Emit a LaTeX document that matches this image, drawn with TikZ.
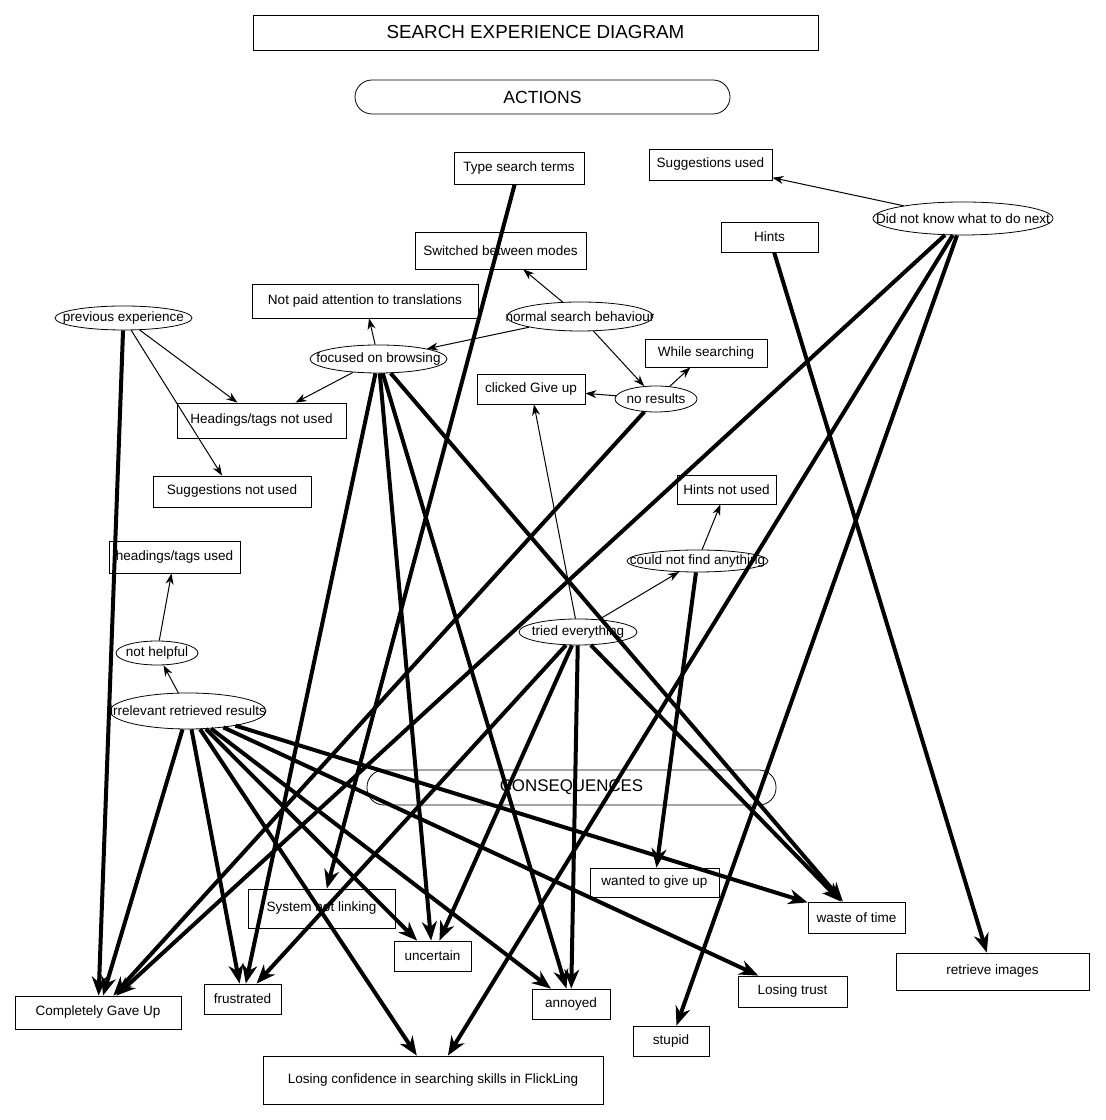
\documentclass[tikz,border=0pt]{standalone}
\usepackage{fontspec}
\setmainfont{Liberation Sans}
\usetikzlibrary{arrows.meta,shapes.geometric}

\begin{document}
\begin{tikzpicture}[
    box/.style={draw, rectangle, line width=0.016cm, inner sep=0pt},
    oval/.style={draw, ellipse, line width=0.016cm, inner sep=0pt},
    pill/.style={draw, rectangle, rounded corners=0.34cm, line width=0.016cm, inner sep=0pt},
    lead/.style={line width=0.02cm, -{Stealth[length=0.22cm,width=0.16cm,inset=0.07cm]}},
    heavy/.style={line width=0.08cm, -{Stealth[length=0.38cm,width=0.3cm,inset=0.12cm]}}
    ]
                    \useasboundingbox (0,0) rectangle (22.100000,22.400000);
                    {\fontsize{7.7}{9}\selectfont

                    % Marking box title
                    \node [box, minimum width=11.300000cm, minimum height=0.700000cm, font=\fontsize{10.7}{12}\selectfont] (title) at (10.710000,21.750000) {SEARCH EXPERIENCE DIAGRAM};%

                    % Marking box ACTIONS
                    \node [pill, minimum width=7.500000cm, minimum height=0.680000cm, font=\fontsize{10}{12}\selectfont] (actions) at (10.850000,20.460000) {ACTIONS};%

                    % Marking box CONSEQUENCES
                    \node [pill, minimum width=8.180000cm, minimum height=0.700000cm, font=\fontsize{9.6}{12}\selectfont] (consequences) at (11.430000,6.650000) {CONSEQUENCES};%

                    % Marking actions
                    \node [box, minimum width=2.600000cm, minimum height=0.640000cm] (typeterms) at (10.380000,19.040000) {Type search terms};%
                    \node [box, minimum width=2.460000cm, minimum height=0.620000cm] (sugused) at (14.210000,19.110000) {Suggestions used};%
                    \node [box, minimum width=1.940000cm, minimum height=0.600000cm] (hints) at (15.390000,17.660000) {Hints};%
                    \node [oval, minimum width=3.600000cm, minimum height=0.660000cm] (dontknow) at (19.260000,18.030000) {\makebox[0pt]{Did not know what to do next}};%
                    \node [box, minimum width=3.420000cm, minimum height=0.740000cm] (switched) at (10.010000,17.390000) {Switched between modes};%
                    \node [box, minimum width=4.520000cm, minimum height=0.680000cm] (notpaid) at (7.300000,16.380000) {Not paid attention to translations};%
                    \node [oval, minimum width=2.740000cm, minimum height=0.480000cm] (prevexp) at (2.470000,16.040000) {\makebox[0pt]{previous experience}};%
                    \node [oval, minimum width=2.920000cm, minimum height=0.580000cm] (normal) at (11.600000,16.070000) {\makebox[0pt]{normal search behaviour}};%
                    \node [oval, minimum width=2.740000cm, minimum height=0.560000cm] (browsing) at (7.570000,15.220000) {\makebox[0pt]{focused on browsing}};%
                    \node [box, minimum width=2.440000cm, minimum height=0.560000cm] (whilesearch) at (14.120000,15.340000) {While searching};%
                    \node [box, minimum width=2.160000cm, minimum height=0.600000cm] (giveup) at (10.620000,14.620000) {clicked Give up};%
                    \node [oval, minimum width=1.640000cm, minimum height=0.520000cm] (noresults) at (13.120000,14.420000) {\makebox[0pt]{no results}};%
                    \node [box, minimum width=3.380000cm, minimum height=0.700000cm] (headnotused) at (5.230000,13.990000) {Headings/tags not used};%
                    \node [box, minimum width=3.160000cm, minimum height=0.620000cm] (sugnotused) at (4.640000,12.570000) {Suggestions not used};%
                    \node [box, minimum width=1.980000cm, minimum height=0.580000cm] (hintsnotused) at (14.530000,12.610000) {Hints not used};%
                    \node [box, minimum width=2.620000cm, minimum height=0.640000cm] (headused) at (3.490000,11.260000) {headings/tags used};%
                    \node [oval, minimum width=2.820000cm, minimum height=0.440000cm] (nothing) at (13.950000,11.180000) {\makebox[0pt]{could not find anything}};%
                    \node [oval, minimum width=2.360000cm, minimum height=0.520000cm] (tried) at (11.560000,9.760000) {\makebox[0pt]{tried everything}};%
                    \node [oval, minimum width=1.640000cm, minimum height=0.480000cm] (nothelpful) at (3.140000,9.340000) {\makebox[0pt]{not helpful}};%
                    \node [oval, minimum width=3.120000cm, minimum height=0.720000cm] (irrelevant) at (3.760000,8.180000) {\makebox[0pt]{irrelevant retrieved results}};%

                    % Marking consequences
                    \node [box, minimum width=2.580000cm, minimum height=0.580000cm] (wanted) at (13.090000,4.750000) {wanted to give up};%
                    \node [box, minimum width=2.940000cm, minimum height=0.780000cm] (syslink) at (6.430000,4.230000) {System not linking};%
                    \node [box, minimum width=1.940000cm, minimum height=0.620000cm] (waste) at (17.130000,4.050000) {waste of time};%
                    \node [box, minimum width=1.540000cm, minimum height=0.600000cm] (uncertain) at (8.650000,3.280000) {uncertain};%
                    \node [box, minimum width=3.860000cm, minimum height=0.740000cm] (retrieve) at (19.850000,2.970000) {retrieve images};%
                    \node [box, minimum width=2.180000cm, minimum height=0.620000cm] (losingtrust) at (15.850000,2.570000) {Losing trust};%
                    \node [box, minimum width=1.540000cm, minimum height=0.600000cm] (frustrated) at (4.850000,2.420000) {frustrated};%
                    \node [box, minimum width=1.560000cm, minimum height=0.600000cm] (annoyed) at (11.420000,2.320000) {annoyed};%
                    \node [box, minimum width=3.320000cm, minimum height=0.660000cm] (gaveup) at (1.960000,2.150000) {Completely Gave Up};%
                    \node [box, minimum width=1.520000cm, minimum height=0.600000cm] (stupid) at (13.420000,1.580000) {stupid};%
                    \node [box, minimum width=6.800000cm, minimum height=0.960000cm] (confidence) at (8.660000,0.800000) {Losing confidence in searching skills in FlickLing};%

                    % Drawing thin arrows
                    \draw [lead] (dontknow) -- (sugused);%
                    \draw [lead] (normal) -- (switched);%
                    \draw [lead] (normal) -- (browsing);%
                    \draw [lead] (normal) -- (noresults);%
                    \draw [lead] (browsing) -- (notpaid);%
                    \draw [lead] (browsing) -- (headnotused);%
                    \draw [lead] (prevexp) -- (headnotused);%
                    \draw [lead] (prevexp) -- (sugnotused);%
                    \draw [lead] (noresults) -- (giveup);%
                    \draw [lead] (noresults) -- (whilesearch);%
                    \draw [lead] (tried) -- (giveup);%
                    \draw [lead] (tried) -- (nothing);%
                    \draw [lead] (nothing) -- (hintsnotused);%
                    \draw [lead] (irrelevant) -- (nothelpful);%
                    \draw [lead] (nothelpful) -- (headused);%

                    % Drawing thick arrows from actions
                    \draw [heavy] (typeterms) -- (syslink);%
                    \draw [heavy] (hints) -- (retrieve);%
                    \draw [heavy] (dontknow) -- (gaveup);%
                    \draw [heavy] (dontknow) -- (confidence);%
                    \draw [heavy] (dontknow) -- (stupid);%
                    \draw [heavy] (noresults) -- (gaveup);%
                    \draw [heavy] (prevexp) -- (gaveup);%
                    \draw [heavy] (browsing) -- (frustrated);%
                    \draw [heavy] (browsing) -- (uncertain);%
                    \draw [heavy] (browsing) -- (annoyed);%
                    \draw [heavy] (browsing) -- (waste);%
                    \draw [heavy] (tried) -- (frustrated);%
                    \draw [heavy] (tried) -- (uncertain);%
                    \draw [heavy] (tried) -- (annoyed);%
                    \draw [heavy] (tried) -- (waste);%
                    \draw [heavy] (nothing) -- (wanted);%

                    % Drawing thick arrows from irrelevant results
                    \draw [heavy] (irrelevant) -- (gaveup);%
                    \draw [heavy] (irrelevant) -- (frustrated);%
                    \draw [heavy] (irrelevant) -- (confidence);%
                    \draw [heavy] (irrelevant) -- (uncertain);%
                    \draw [heavy] (irrelevant) -- (annoyed);%
                    \draw [heavy] (irrelevant) -- (losingtrust);%
                    \draw [heavy] (irrelevant) -- (waste);%
                    }
\end{tikzpicture}
\end{document}
